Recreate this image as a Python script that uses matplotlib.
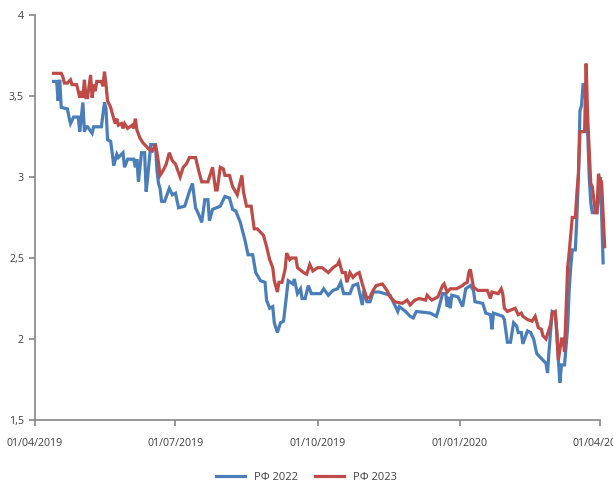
import matplotlib
matplotlib.use("Agg")
import matplotlib.pyplot as plt
import matplotlib.dates as mdates
import matplotlib.ticker as mticker
import numpy as np
import pandas as pd

# days since 01/04/2019 and yields
start = pd.Timestamp("2019-04-01")

days_2022 = [12, 14, 15, 16, 17, 21, 22, 23, 25, 28, 29, 31, 32, 33, 34, 37, 38, 43, 45, 46,
             47, 49, 50, 51, 53, 54, 57, 58, 60, 64, 65, 66, 67, 69, 71, 72, 73, 75, 78, 79,
             80, 81, 82, 84, 87, 89, 91, 93, 97, 100, 102, 104, 106, 108, 110, 112, 113, 115, 120, 123,
             126, 128, 130, 133, 136, 138, 141, 143, 146, 149, 150, 152, 154, 155, 157, 159, 161, 163, 164, 167,
             168, 170, 172, 173, 175, 177, 179, 185, 187, 190, 193, 196, 198, 200, 204, 206, 209, 212, 213, 215,
             217, 219, 223, 230, 233, 235, 236, 240, 243, 245, 247, 256, 260, 261, 264, 266, 267, 268, 269, 270,
             274, 277, 279, 282, 284, 285, 290, 292, 295, 296, 297, 300, 303, 304, 306, 308, 310, 312, 313, 315,
             316, 319, 321, 323, 325, 327, 329, 331, 332, 333, 335, 337, 338, 339, 340, 341, 343, 345, 346, 347,
             348, 350, 351, 352, 353, 354, 355, 356, 358, 359, 360, 361, 364, 365, 366, 367, 368]
rf_2022 = [3.59, 3.59, 3.47, 3.60, 3.43, 3.42, 3.37, 3.33, 3.37, 3.37, 3.28, 3.46, 3.28, 3.31, 3.31, 3.27, 3.31, 3.31, 3.46, 3.42,
           3.23, 3.22, 3.15, 3.07, 3.14, 3.12, 3.15, 3.06, 3.11, 3.11, 3.06, 3.11, 2.97, 3.15, 3.15, 2.91, 3.00, 3.20, 3.20, 3.04,
           2.96, 2.93, 2.85, 2.85, 2.93, 2.89, 2.90, 2.81, 2.82, 2.91, 2.96, 2.81, 2.77, 2.72, 2.86, 2.86, 2.73, 2.80, 2.82, 2.88,
           2.87, 2.80, 2.79, 2.72, 2.61, 2.52, 2.52, 2.41, 2.36, 2.35, 2.24, 2.19, 2.20, 2.10, 2.04, 2.10, 2.11, 2.28, 2.36, 2.34,
           2.37, 2.28, 2.31, 2.25, 2.25, 2.33, 2.28, 2.28, 2.31, 2.27, 2.30, 2.31, 2.35, 2.28, 2.28, 2.33, 2.34, 2.21, 2.30, 2.23,
           2.23, 2.29, 2.29, 2.27, 2.21, 2.17, 2.20, 2.17, 2.14, 2.13, 2.17, 2.16, 2.14, 2.17, 2.28, 2.28, 2.20, 2.26, 2.19, 2.27,
           2.26, 2.20, 2.31, 2.33, 2.30, 2.23, 2.22, 2.16, 2.15, 2.06, 2.16, 2.15, 2.14, 2.12, 1.98, 1.98, 2.10, 2.08, 2.04, 2.04,
           1.97, 2.05, 2.04, 2.00, 1.91, 1.89, 1.87, 1.85, 1.79, 1.93, 2.17, 2.16, 2.04, 1.87, 1.73, 1.84, 1.84, 2.07, 2.30, 2.44,
           2.55, 2.55, 2.75, 3.00, 3.41, 3.44, 3.57, 3.57, 3.27, 3.00, 2.84, 2.78, 2.78, 2.88, 3.00, 2.78, 2.47]

days_2023 = [12, 17, 18, 19, 21, 23, 24, 27, 29, 30, 31, 32, 33, 34, 36, 37, 38, 39, 40, 43,
             44, 45, 46, 47, 49, 51, 52, 53, 54, 56, 57, 58, 60, 63, 64, 65, 66, 68, 70, 72,
             74, 76, 78, 79, 80, 81, 83, 85, 87, 89, 91, 94, 96, 98, 100, 104, 106, 108, 112, 115,
             117, 118, 120, 122, 123, 126, 128, 131, 134, 135, 137, 140, 142, 144, 148, 150, 152, 154, 155, 157,
             158, 160, 162, 163, 165, 166, 169, 170, 174, 176, 178, 180, 183, 186, 190, 193, 196, 197, 199, 201,
             202, 204, 206, 208, 210, 212, 215, 217, 219, 221, 225, 228, 230, 233, 238, 241, 243, 246, 249, 253,
             254, 257, 261, 264, 265, 267, 269, 273, 277, 278, 280, 281, 282, 284, 287, 293, 295, 296, 300, 302,
             303, 304, 306, 311, 313, 315, 316, 319, 322, 324, 326, 328, 329, 331, 333, 334, 335, 337, 338, 339,
             341, 342, 343, 345, 346, 348, 350, 351, 352, 353, 356, 357, 358, 360, 361, 363, 364, 365, 366, 367,
             369]
rf_2023 = [3.64, 3.64, 3.62, 3.58, 3.58, 3.60, 3.57, 3.57, 3.49, 3.53, 3.49, 3.60, 3.49, 3.49, 3.63, 3.49, 3.57, 3.53, 3.59, 3.59,
           3.56, 3.65, 3.57, 3.47, 3.43, 3.36, 3.33, 3.36, 3.32, 3.33, 3.30, 3.33, 3.30, 3.32, 3.30, 3.36, 3.29, 3.24, 3.21, 3.19,
           3.17, 3.16, 3.20, 3.15, 3.09, 3.01, 3.04, 3.08, 3.15, 3.10, 3.08, 3.00, 3.06, 3.08, 3.12, 3.12, 3.04, 2.97, 2.97, 3.06,
           2.92, 2.92, 3.06, 3.05, 3.01, 3.01, 2.94, 2.89, 3.01, 2.91, 2.82, 2.82, 2.68, 2.68, 2.64, 2.57, 2.49, 2.44, 2.36, 2.29,
           2.35, 2.35, 2.43, 2.53, 2.49, 2.50, 2.50, 2.44, 2.41, 2.40, 2.46, 2.42, 2.44, 2.44, 2.41, 2.44, 2.46, 2.48, 2.41, 2.41,
           2.35, 2.41, 2.38, 2.40, 2.41, 2.34, 2.25, 2.26, 2.30, 2.33, 2.34, 2.30, 2.26, 2.23, 2.22, 2.24, 2.21, 2.24, 2.25, 2.24,
           2.27, 2.24, 2.26, 2.33, 2.34, 2.29, 2.31, 2.31, 2.33, 2.34, 2.35, 2.41, 2.43, 2.32, 2.30, 2.30, 2.25, 2.29, 2.28, 2.31,
           2.28, 2.19, 2.17, 2.19, 2.15, 2.16, 2.14, 2.12, 2.11, 2.14, 2.07, 2.06, 2.02, 2.00, 2.06, 2.09, 2.16, 2.17, 2.04, 1.87,
           2.00, 2.00, 1.92, 2.44, 2.53, 2.75, 2.75, 2.90, 3.02, 3.28, 3.28, 3.70, 3.37, 2.96, 2.94, 2.78, 2.78, 3.02, 2.97, 2.97,
           2.57]

series_names = ["РФ 2022", "РФ 2023"]
y_ticks = [1.5, 2, 2.5, 3, 3.5, 4]
x_ticks = ["2019-04-01", "2019-07-01", "2019-10-01", "2020-01-01", "2020-04-01"]

blue = "#4a7ebb"
red = "#be4b48"
grey = "#868686"
txt = "#404040"

plt.rcParams["font.family"] = ["Open Sans", "DejaVu Sans"]

dates_2022 = start + pd.to_timedelta(days_2022, unit="D")
dates_2023 = start + pd.to_timedelta(days_2023, unit="D")

fig = plt.figure(figsize=(6.13, 4.87), dpi=100)
ax = fig.add_axes([35 / 613, 67 / 487, 578 / 613, 405 / 487])

ax.plot(dates_2022, rf_2022, color=blue, lw=2.3, label=series_names[0], solid_joinstyle="miter")
ax.plot(dates_2023, rf_2023, color=red, lw=2.3, label=series_names[1], solid_joinstyle="miter")

ax.set_xlim(start, start + pd.Timedelta(days=374.4))
ax.set_ylim(1.5, 4)

ax.set_yticks(y_ticks)
ax.yaxis.set_major_formatter(mticker.FuncFormatter(lambda v, p: ("%g" % v).replace(".", ",")))
ax.set_xticks(pd.to_datetime(x_ticks))
ax.xaxis.set_major_formatter(mdates.DateFormatter("%d/%m/%Y"))

for s in ["top", "right"]:
    ax.spines[s].set_visible(False)
for s in ["left", "bottom"]:
    ax.spines[s].set_color(grey)
    ax.spines[s].set_linewidth(1.2)
ax.spines["bottom"].set_bounds(mdates.date2num(start), mdates.date2num(pd.Timestamp("2020-04-01")))

ax.tick_params(axis="both", colors=grey, labelcolor=txt, labelsize=7.7, length=4, width=1.2)
ax.tick_params(axis="x", pad=9)
ax.tick_params(axis="y", pad=4)

fig.legend(loc="lower center", bbox_to_anchor=(0.5, -0.012), ncol=2, frameon=False,
           fontsize=8, handlelength=2.6, columnspacing=1.6, labelcolor=txt)

fig.savefig("out.png", dpi=100)
